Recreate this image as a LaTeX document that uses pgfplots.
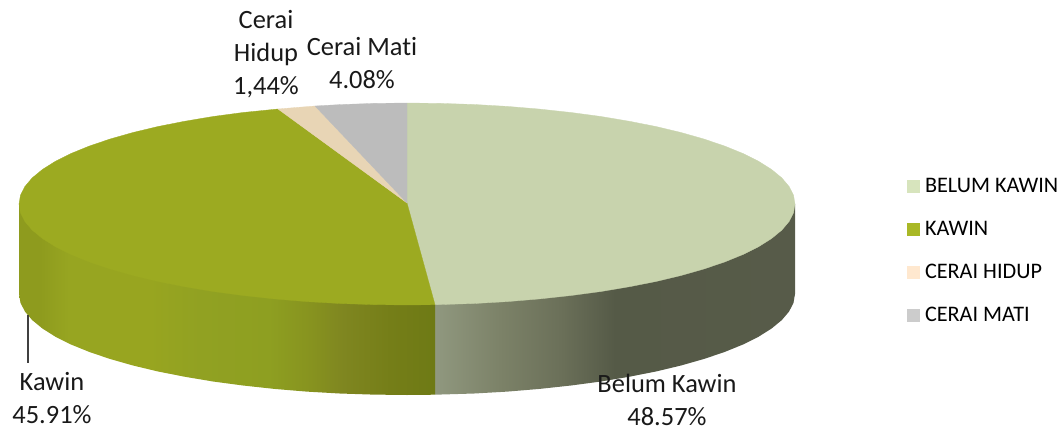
\documentclass[border=0pt]{standalone}
\usepackage{fontspec}
\setmainfont[Ligatures=NoCommon]{Carlito}
\usepackage{pgfplots}
\pgfplotsset{compat=1.18}
\definecolor{topA}{HTML}{C8D3AD}
\definecolor{topB}{HTML}{9CAA21}
\definecolor{topC}{HTML}{E8D5B5}
\definecolor{topD}{HTML}{BCBCBC}
\definecolor{lgA}{HTML}{D7E4BD}
\definecolor{lgB}{HTML}{A9B826}
\definecolor{lgC}{HTML}{FFE8CF}
\definecolor{lgD}{HTML}{CCCCCC}
\definecolor{ka}{HTML}{8E9B1E}
\definecolor{kb}{HTML}{97A521}
\definecolor{kc}{HTML}{98A520}
\definecolor{kd}{HTML}{91A122}
\definecolor{ke}{HTML}{8E9F21}
\definecolor{kf}{HTML}{87931F}
\definecolor{kg}{HTML}{7F8620}
\definecolor{kh}{HTML}{757E18}
\definecolor{ki}{HTML}{6E7A15}
\definecolor{ba}{HTML}{90987F}
\definecolor{bb}{HTML}{7C8268}
\definecolor{bc}{HTML}{6B7059}
\definecolor{bd}{HTML}{555A47}
\definecolor{be}{HTML}{575B49}
\pgfdeclarehorizontalshading{kawinside}{100bp}{color(0bp)=(ka); color(25bp)=(ka); color(27.5bp)=(ka); color(31bp)=(kb); color(40.7bp)=(kc); color(46.8bp)=(kd); color(55bp)=(ke); color(60bp)=(kf); color(64bp)=(kg); color(69.6bp)=(kh); color(75bp)=(ki); color(100bp)=(ki)}
\pgfdeclarehorizontalshading{belumside}{100bp}{color(0bp)=(ba); color(25bp)=(ba); color(34bp)=(bb); color(42.4bp)=(bc); color(50bp)=(bd); color(75bp)=(be); color(100bp)=(be)}
\begin{document}
\begin{tikzpicture}
\path[use as bounding box] (0,0) rectangle (1063pt,428pt);
\begin{axis}[
  at={(0,0)}, anchor=south west,
  width=1063pt, height=428pt, scale only axis,
  xmin=0, xmax=1063, ymin=0, ymax=428, y dir=reverse,
  hide axis, clip=false,
  legend cell align=left,
  legend style={at={(axis cs:907,178.5)}, anchor=north west, draw=none, fill=none,
    font=\fontsize{22.2}{22}\selectfont, inner sep=0pt, outer sep=0pt,
    /tikz/every odd column/.append style={column sep=5pt},
    /tikz/every even column/.append style={column sep=0pt},
    row sep=27pt,
    nodes={inner sep=0pt, text height=14pt, text depth=2pt}},
  legend image code/.code={\fill[#1] (0pt,-6.5pt) rectangle (13pt,6.5pt);},
]
% side walls
\addplot[shading=belumside, draw=none, forget plot] coordinates {
(795,204) (795,294) (793.5,302.8) (789.1,311.5) (781.8,320.1) (771.6,328.5) (758.6,336.7) (743,344.5) (724.8,351.9) (704.2,358.9) (681.4,365.4) (656.4,371.4) (629.5,376.7) (601,381.5) (571,385.5) (539.7,388.9) (507.4,391.6) (474.4,393.5) (435,394.7) (435,304) (795,204)};
\addplot[shading=kawinside, draw=none, forget plot] coordinates {
(435,304) (435,394.7) (407,395) (373.2,394.6) (339.6,393.5) (306.6,391.6) (274.3,388.9) (243,385.5) (213,381.5) (184.5,376.7) (157.6,371.4) (132.6,365.4) (109.8,358.9) (89.2,351.9) (71,344.5) (55.4,336.7) (42.4,328.5) (32.2,320.1) (24.9,311.5) (20.5,302.8) (19,294) (19,204) (435,304)};
% top surface: Belum Kawin 48.57
\addplot[fill=topA, draw=topA, line width=0.3pt, forget plot] coordinates {
(407,203) (407,103) (440.8,103.4) (474.4,104.5) (507.4,106.4) (539.7,109.1) (571,112.5) (601,116.5) (629.5,121.3) (656.4,126.6) (681.4,132.6) (704.2,139.1) (724.8,146.1) (743,153.5) (758.6,161.3) (771.6,169.5) (781.8,177.9) (789.1,186.5) (793.5,195.2) (795,204) (793.5,212.8) (789.1,221.5) (781.8,230.1) (771.6,238.5) (758.6,246.7) (743,254.5) (724.8,261.9) (704.2,268.9) (681.4,275.4) (656.4,281.4) (629.5,286.7) (601,291.5) (571,295.5) (539.7,298.9) (507.4,301.6) (474.4,303.5) (435,304.7) (407,203)};
% Kawin 45.91
\addplot[fill=topB, draw=topB, line width=0.3pt, forget plot] coordinates {
(407,203) (435,304.7) (407,305) (373.2,304.6) (339.6,303.5) (306.6,301.6) (274.3,298.9) (243,295.5) (213,291.5) (184.5,286.7) (157.6,281.4) (132.6,275.4) (109.8,268.9) (89.2,261.9) (71,254.5) (55.4,246.7) (42.4,238.5) (32.2,230.1) (24.9,221.5) (20.5,212.8) (19,204) (20.5,195.2) (24.9,186.5) (32.2,177.9) (42.4,169.5) (55.4,161.3) (71,153.5) (89.2,146.1) (109.8,139.1) (132.6,132.6) (157.6,126.6) (184.5,121.3) (213,116.5) (243,112.5) (278,109) (407,203)};
% Cerai Hidup 1.44
\addplot[fill=topC, draw=topC, line width=0.3pt, forget plot] coordinates {
(407,203) (278,109) (296,107.5) (315,106) (407,203)};
% Cerai Mati 4.08
\addplot[fill=topD, draw=topD, line width=0.3pt, forget plot] coordinates {
(407,203) (315,106) (340,104.6) (373.2,103.4) (407,103) (407,203)};
% leader
\addplot[color=black!75, line width=1.1pt, forget plot] coordinates {(28,315) (28,363)};
% legend
\addlegendimage{fill=lgA, draw=none}\addlegendentry{BELUM KAWIN}
\addlegendimage{fill=lgB, draw=none}\addlegendentry{KAWIN}
\addlegendimage{fill=lgC, draw=none}\addlegendentry{CERAI HIDUP}
\addlegendimage{fill=lgD, draw=none}\addlegendentry{CERAI MATI}
% labels
\tikzset{lab/.style={align=center, font=\fontsize{26.4}{33}\selectfont, inner sep=0pt, text=black!90}}
\node[lab] at (axis cs:266,54) {Cerai\\Hidup\\1,44\%};
\node[lab] at (axis cs:362,63) {Cerai Mati\\4.08\%};
\node[lab] at (axis cs:52,398) {Kawin\\45.91\%};
\node[lab] at (axis cs:667,400) {Belum Kawin\\48.57\%};
\end{axis}
\end{tikzpicture}
\end{document}
